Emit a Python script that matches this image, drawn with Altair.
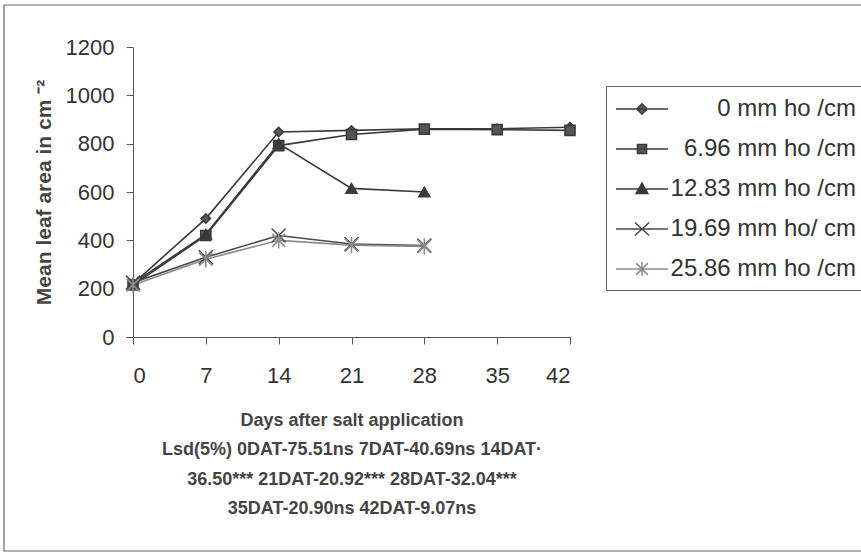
import altair as alt
import pandas as pd

# ---------------- data ----------------
days = [0, 7, 14, 21, 28, 35, 42]
series_names = ["0 mm ho /cm", "6.96 mm ho /cm", "12.83 mm ho /cm",
                "19.69 mm ho/ cm", "25.86 mm ho /cm"]
s0 = [220, 490, 848, 855, 862, 862, 868]
s1 = [215, 420, 792, 838, 860, 858, 855]
s2 = [222, 425, 800, 615, 600]
s3 = [225, 330, 420, 385, 378]
s4 = [215, 322, 400, 380, 375]
y_ticks = [0, 200, 400, 600, 800, 1000, 1200]
x_title = ["Days after salt application",
           "Lsd(5%) 0DAT-75.51ns 7DAT-40.69ns 14DAT\u00b7",
           "36.50*** 21DAT-20.92*** 28DAT-32.04***",
           "35DAT-20.90ns 42DAT-9.07ns"]
y_title = "Mean leaf area in cm  \u207b\u00b2"

series_values = [s0, s1, s2, s3, s4]
rows = []
for name, vals in zip(series_names, series_values):
    for d, v in zip(days, vals):
        rows.append({"series": name, "day": d, "area": v})
df = pd.DataFrame(rows)

# ---------------- styles ----------------
line_colors = ["#3a3a3a", "#3a3a3a", "#3a3a3a", "#4a4a4a", "#8c8c8c"]
fill_colors = ["#5a5a5a", "#555555", "#3a3a3a", "#4a4a4a", "#8c8c8c"]
chart_shapes = ["diamond", "square", "triangle-up",
                "M-1,-1L1,1M-1,1L1,-1",
                "M-1,-1L1,1M-1,1L1,-1M0,-1.25V1.25"]
chart_sizes = [85, 100, 120, 196, 170]
chart_filled = [True, True, True, False, False]
legend_paths = [
    "M-1,0H3M1,-0.4L1.4,0L1,0.4L0.6,0Z",
    "M-1,0H3M0.65,-0.35H1.35V0.35H0.65Z",
    "M-1,0H3M1,-0.45L1.45,0.35H0.55Z",
    "M-1,0H3M0.45,-0.5L1.55,0.5M0.45,0.5L1.55,-0.5",
    "M-1,0H3M0.55,-0.45L1.45,0.45M0.55,0.45L1.45,-0.45M1,-0.55V0.55",
]

FONT = "Liberation Sans"

x_enc = alt.X("day:Q",
              scale=alt.Scale(domain=[0, 42], nice=False, zero=False),
              axis=alt.Axis(values=days, title=x_title, format="d",
                            titleFontSize=18, titleFontWeight="bold",
                            titleLineHeight=29.5, titlePadding=25,
                            labelPadding=21, titleColor="#444"))
y_enc = alt.Y("area:Q",
              scale=alt.Scale(domain=[0, 1200], nice=False),
              axis=alt.Axis(values=y_ticks, title=y_title, format="d",
                            titleFontSize=21, titleFontWeight="bold",
                            titlePadding=11, labelPadding=12, titleColor="#444"))

# outer frame (decoration)
frame = alt.Chart(pd.DataFrame({"f": [0]})).mark_rect(
    fillOpacity=0, stroke="#666", strokeWidth=1.2
).encode(x=alt.value(-129), x2=alt.value(729), y=alt.value(-42), y2=alt.value(504))

layers = [frame]
for i, name in enumerate(series_names):
    sub = alt.Chart(df).transform_filter(alt.datum.series == name)
    layers.append(sub.mark_line(color=line_colors[i], strokeWidth=1.6).encode(x=x_enc, y=y_enc))
for i, name in enumerate(series_names):
    sub = alt.Chart(df).transform_filter(alt.datum.series == name)
    layers.append(sub.mark_point(shape=chart_shapes[i], size=chart_sizes[i],
                                 filled=chart_filled[i], color=fill_colors[i],
                                 stroke=line_colors[i], strokeWidth=1.6,
                                 opacity=1).encode(x=x_enc, y=y_enc))

# legend carrier (draws nothing, only provides the legend)
carrier = alt.Chart(df).transform_filter("false").mark_point(filled=True, opacity=1).encode(
    x=x_enc, y=y_enc,
    shape=alt.Shape("series:N", scale=alt.Scale(domain=series_names, range=legend_paths),
                    title=None),
    fill=alt.Fill("series:N", scale=alt.Scale(domain=series_names, range=fill_colors),
                  title=None),
    stroke=alt.Stroke("series:N", scale=alt.Scale(domain=series_names, range=line_colors),
                      title=None),
)
layers.append(carrier)

chart = alt.layer(*layers).properties(
    width=437, height=290,
    padding={"left": 133, "top": 47, "right": 291, "bottom": 216},
    autosize=alt.AutoSizeParams(type="none"),
    background="white",
).configure_view(strokeWidth=0).configure_axis(
    grid=False, domainColor="#555", tickColor="#555", tickSize=7,
    labelFont=FONT, titleFont=FONT, labelFontSize=22, labelColor="#333",
).configure_legend(
    orient="none", legendX=473, legendY=39,
    padding=9, strokeColor="#666", fillColor="white",
    symbolSize=676, symbolStrokeWidth=1.5, symbolOpacity=1,
    labelFont=FONT, labelFontSize=24, labelColor="#333",
    labelAlign="right", labelOffset=213, labelLimit=400,
    rowPadding=14,
)

chart.save("out.html", embed_options={"renderer": "svg", "actions": False})
